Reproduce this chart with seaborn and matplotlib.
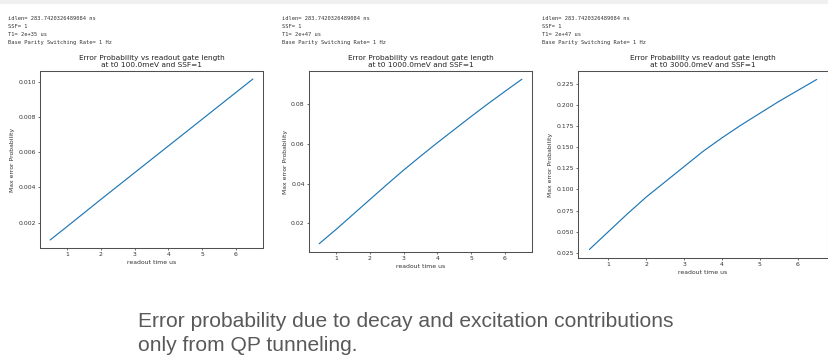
import matplotlib
matplotlib.use("Agg")
import matplotlib.pyplot as plt
import seaborn as sns
import pandas as pd
from matplotlib.patches import Rectangle

sns.set_style("ticks")
plt.rcParams['font.family'] = ['DejaVu Sans']

readout_time = [0.5, 1.0, 1.5, 2.0, 2.5, 3.0, 3.5, 4.0, 4.5, 5.0, 5.5, 6.0, 6.5]
err_100 = [0.00102, 0.00178, 0.00255, 0.00332, 0.00408, 0.00484, 0.00560,
           0.00636, 0.00712, 0.00788, 0.00864, 0.00940, 0.01016]
err_1000 = [0.0098, 0.0170, 0.0245, 0.0320, 0.0395, 0.0468, 0.0538,
            0.0606, 0.0672, 0.0738, 0.0802, 0.0864, 0.0925]
err_3000 = [0.029, 0.050, 0.071, 0.091, 0.109, 0.127, 0.145,
            0.161, 0.176, 0.190, 0.204, 0.217, 0.230]

t0_values = ["100.0", "1000.0", "3000.0"]
t1_values = ["2e+35", "2e+47", "2e+47"]
series = [err_100, err_1000, err_3000]

W, H = 829, 361
fig = plt.figure(figsize=(W / 100, H / 100), dpi=100)
fig.patch.set_facecolor("white")
fig.add_artist(Rectangle((0, (H - 4) / H), 1, 4 / H, transform=fig.transFigure,
                         facecolor="#f0f0f0", edgecolor="none"))

# axes boxes in pixels: left, right, top, bottom
boxes = [(40, 263, 71, 248), (309, 532, 71, 252), (578, 828, 71, 258)]
header_x = [8, 282, 542]

tick_fs = 4.4
title_fs = 5.3
mono_fs = 3.9

for i, (l, r, t, b) in enumerate(boxes):
    ax = fig.add_axes([l / W, (H - b) / H, (r - l) / W, (b - t) / H])
    df = pd.DataFrame({"readout time us": readout_time, "Max error Probability": series[i]})
    sns.lineplot(data=df, x="readout time us", y="Max error Probability", ax=ax,
                 color="#1f77b4", linewidth=0.85)
    ax.set_facecolor("white")
    for s in ax.spines.values():
        s.set_visible(True)
        s.set_linewidth(0.75)
        s.set_color("#505050")
    ax.tick_params(labelsize=tick_fs, length=1.6, width=0.5, pad=1.5, colors="#333333")
    ax.set_xlabel("readout time us", fontsize=tick_fs, labelpad=2, color="#333333")
    ax.set_ylabel("Max error Probability", fontsize=tick_fs, labelpad=2, color="#333333")
    ax.set_xticks([1, 2, 3, 4, 5, 6])
    ax.margins(x=0.05, y=0.05)
    ax.set_title(f"Error Probability vs readout gate length\nat t0 {t0_values[i]}meV and SSF=1",
                 fontsize=title_fs, pad=3, linespacing=1.25, color="#222222")
    header = (f"idlen= 283.7420326489084 ns\nSSF= 1\nT1= {t1_values[i]} us\n"
              f"Base Parity Switching Rate= 1 Hz")
    fig.text(header_x[i] / W, (H - 16) / H, header, fontsize=mono_fs,
             family="DejaVu Sans Mono", va="top", ha="left", linespacing=1.75,
             color="#333333")

fig.text(138 / W, (H - 327) / H,
         "Error probability due to decay and excitation contributions",
         fontsize=15.1, family="Liberation Sans", color="#595959", va="baseline")
fig.text(138 / W, (H - 351) / H, "only from QP tunneling.",
         fontsize=15.1, family="Liberation Sans", color="#595959", va="baseline")

fig.savefig("out.png", dpi=100, facecolor="white")
